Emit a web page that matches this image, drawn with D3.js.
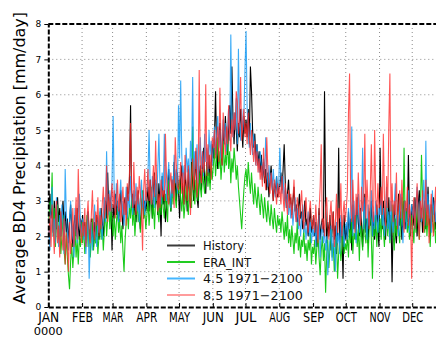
<!DOCTYPE html>
<html>
<head>
<meta charset="utf-8">
<script src="https://cdn.jsdelivr.net/npm/d3@7"></script>
<style>
body{margin:0;background:#fff}
svg{display:block;font-family:"DejaVu Sans",sans-serif}
</style>
</head>
<body>
<div id="chart"></div>
<script>
var months = ["JAN","FEB","MAR","APR","MAY","JUN","JUL","AUG","SEP","OCT","NOV","DEC"];
var monthDays = [31,28,31,30,31,30,31,31,30,31,30,31];
var yTicks = [0,1,2,3,4,5,6,7,8];
var yearLabel = "0000";
var yTitle = "Average BD4 Precipitation [mm/day]";
var seriesNames = ["History","ERA_INT","4.5  1971\u22122100","8.5  1971\u22122100"];

// daily values [mm/day], one row per month
var hist = [
  [2.8,3.2,2.5,2.9,2.1,3.0,2.6,2.2,3.1,2.4,2.8,2.0,2.6,3.0,2.3,2.7,2.1,2.5,1.8,2.4,2.9,2.2,1.7,2.3,2.6,2.0,2.8,2.3,1.9,2.5,2.2],
  [2.6,2.0,2.4,1.8,2.3,2.7,2.1,1.9,2.5,2.2,1.7,2.4,2.0,2.6,2.3,1.9,2.2,2.8,2.4,2.0,2.6,3.0,2.5,3.8,2.7,3.1,2.9,1.6],
  [2.9,2.5,3.2,2.6,3.0,2.4,2.8,3.3,2.7,2.2,2.9,3.1,2.6,3.4,3.0,3.6,5.7,2.8,3.2,2.6,3.0,2.4,2.9,3.3,2.7,2.2,2.8,3.1,2.5,3.0,2.7],
  [3.0,3.4,2.7,3.6,3.1,2.5,3.3,3.8,2.9,3.2,2.6,3.5,3.0,2.0,3.7,2.9,3.3,2.4,2.8,3.4,3.9,3.1,2.7,3.6,3.2,4.1,3.5,3.0,3.8,3.3],
  [2.5,3.6,4.0,3.2,2.9,3.8,3.4,2.7,3.9,3.3,2.8,4.2,3.5,3.0,3.7,4.4,3.1,2.8,3.6,4.0,3.3,3.9,4.5,3.6,3.2,4.1,3.7,4.3,3.5,4.0,4.6],
  [4.2,4.8,6.1,4.5,3.9,4.7,5.2,4.4,4.0,5.0,4.6,5.4,4.8,4.3,5.1,5.7,4.9,6.8,5.3,4.6,5.5,5.0,4.4,5.2,4.8,5.6,5.1,4.5,5.4,4.9],
  [5.3,4.8,5.6,4.6,6.8,6.1,5.0,4.5,4.9,4.2,4.6,4.0,4.4,3.8,4.3,3.6,4.1,3.5,3.9,3.3,3.8,3.1,3.6,4.0,3.4,3.0,3.5,3.2,3.7,3.1,3.4],
  [3.4,3.8,3.3,3.9,4.6,3.5,2.8,3.2,3.6,2.9,3.1,2.6,3.0,3.4,2.7,2.9,2.4,2.8,3.2,2.5,2.7,2.2,2.6,3.0,2.3,2.5,2.0,2.4,2.8,2.1,2.3],
  [2.6,2.0,2.4,1.7,2.2,2.8,1.9,2.3,2.5,2.1,6.1,3.0,1.8,2.4,2.0,2.6,1.6,2.2,2.7,1.9,2.3,1.5,2.1,4.5,1.8,2.4,2.0,0.8,2.6,1.9],
  [2.3,1.8,2.7,2.1,2.5,1.6,2.9,2.2,2.6,1.9,3.1,2.4,2.0,2.8,2.3,1.7,2.6,3.2,2.1,2.5,1.8,2.7,2.3,3.0,2.0,2.6,1.9,2.4,2.9,2.2,1.7],
  [4.5,2.8,2.2,3.0,2.5,1.9,2.7,2.3,3.1,2.0,2.6,0.7,2.4,2.9,2.1,1.8,2.6,3.2,2.3,2.7,1.9,2.5,3.0,2.2,2.8,2.4,4.3,2.6,2.0,2.9],
  [2.7,2.3,3.1,2.5,2.0,2.9,3.3,2.4,2.8,2.1,2.6,3.0,2.2,2.7,3.4,2.5,2.0,2.9,2.4,3.1,2.6,2.2,2.8,3.2,2.5,2.1,2.9,2.4,3.0,2.6,2.3]
];
var eraInt = [
  [2.5,3.0,2.7,3.8,2.0,2.8,1.7,2.3,2.9,1.9,2.4,1.5,2.0,2.6,1.6,1.2,2.1,1.4,0.9,0.5,1.3,1.8,1.1,1.6,2.2,1.4,1.9,1.2,2.0,1.7,2.4],
  [1.8,2.3,1.5,2.0,2.6,1.7,2.2,1.4,1.9,2.5,1.6,2.1,1.8,2.4,1.5,2.0,2.7,1.9,2.3,1.6,2.2,2.8,2.0,2.5,3.0,2.2,2.7,2.4],
  [2.0,2.6,1.9,2.4,2.8,2.1,2.5,1.8,2.3,1.6,1.0,1.9,2.4,2.7,2.2,2.9,2.5,3.1,2.3,2.8,2.0,2.6,3.0,2.4,2.7,2.1,2.9,3.3,2.5,2.8,2.2],
  [2.6,3.0,2.3,2.8,3.4,2.5,2.9,2.2,3.1,3.5,2.7,2.4,3.0,2.6,3.3,2.8,2.5,3.2,2.9,2.4,3.6,3.0,2.7,3.4,2.9,3.7,3.1,2.8,3.5,3.2],
  [3.6,3.1,2.7,3.3,2.5,2.9,3.4,3.0,2.6,3.5,3.1,2.8,5.1,3.2,2.9,3.6,3.3,3.0,3.8,3.4,3.1,3.9,3.5,3.2,3.7,4.0,3.4,3.8,3.3,4.1,3.6],
  [4.0,4.5,3.7,4.2,4.8,3.9,4.4,3.6,4.1,4.7,3.8,4.3,4.0,4.9,3.9,4.4,3.5,4.2,3.8,4.5,4.1,3.6,4.0,3.4,3.0,2.6,2.2,2.8,3.3,3.7],
  [3.9,3.4,4.1,3.6,3.2,3.8,3.3,2.9,3.5,3.1,2.8,3.4,3.0,2.6,3.2,2.9,2.5,3.1,2.7,2.4,3.0,2.6,2.3,2.9,2.5,2.2,2.8,2.4,2.1,2.6,2.3],
  [2.5,2.1,2.7,2.3,1.9,2.4,2.0,2.6,1.8,2.2,1.7,2.3,1.9,1.5,2.1,1.8,2.4,1.6,2.0,1.4,1.9,1.7,2.2,1.5,1.8,1.3,1.9,1.6,2.1,1.2,1.7],
  [1.5,1.9,1.2,1.7,2.1,1.4,0.9,1.6,2.0,1.3,1.8,0.4,1.5,1.9,1.1,1.7,2.2,1.4,1.8,1.0,1.6,2.0,0.8,1.5,1.9,1.3,1.7,2.3,1.5,1.8],
  [1.6,2.0,1.4,2.3,1.8,2.5,1.5,2.1,1.9,2.6,1.7,2.2,1.3,2.4,2.0,1.6,2.7,2.1,1.8,2.5,1.4,2.2,2.8,1.9,0.8,2.3,2.0,2.6,1.7,2.4,2.1],
  [2.5,1.9,2.8,2.2,1.7,2.4,3.0,2.0,2.6,1.8,2.3,2.9,2.1,1.6,2.5,2.0,2.7,2.2,1.8,2.6,3.1,2.3,4.5,2.4,2.8,2.1,2.5,1.9,2.2,2.6],
  [2.3,1.8,2.6,2.1,2.9,2.4,1.9,2.7,4.3,3.0,2.5,2.1,2.8,2.0,2.6,2.3,1.7,2.5,2.9,2.1,2.4,1.8,2.7,2.2,3.1,2.5,1.9,2.6,2.3,2.8,2.0]
];
var rcp45 = [
  [2.2,1.6,2.8,3.4,2.0,2.5,1.8,3.1,2.3,1.7,2.6,2.0,2.9,2.4,1.5,3.9,2.7,2.1,1.6,2.5,3.0,1.9,2.3,1.4,2.8,2.2,1.8,2.6,3.2,2.4,2.0],
  [2.5,1.9,2.3,1.5,2.1,2.7,0.8,1.8,2.4,1.6,2.2,2.9,2.0,1.7,2.5,2.1,2.8,2.3,1.9,2.6,3.1,2.4,4.4,3.0,2.6,3.3,2.8,3.6],
  [5.4,3.2,2.7,3.5,2.9,2.4,3.1,3.6,2.6,3.0,2.3,2.8,3.4,2.5,3.2,2.8,3.7,3.1,2.6,3.3,2.9,3.5,2.7,3.2,2.4,3.0,3.6,2.8,3.3,2.6,3.1],
  [3.3,3.8,5.0,3.4,2.9,3.7,3.2,2.8,3.6,3.0,3.9,4.9,3.5,2.9,3.8,3.2,4.9,3.6,3.0,3.5,4.1,3.3,2.8,3.7,3.1,4.3,3.5,3.9,3.2,5.7],
  [4.2,6.4,4.3,3.5,4.0,3.6,4.5,3.8,4.2,3.4,4.7,4.1,6.5,3.7,4.4,3.9,4.6,3.5,4.2,4.8,3.9,4.4,3.7,4.9,4.1,4.5,3.8,5.0,4.3,4.7,4.0],
  [4.6,5.1,4.3,4.9,5.4,4.5,5.0,4.2,4.8,5.3,4.6,5.2,4.4,5.0,5.6,4.7,7.7,5.3,4.8,5.5,5.0,5.9,4.6,7.3,5.2,4.7,5.6,5.0,5.4,6.7],
  [7.8,5.6,5.0,4.5,5.2,4.7,4.3,4.9,4.4,4.0,4.6,4.1,3.8,4.4,4.0,3.6,4.2,3.7,4.8,3.9,3.4,4.0,3.5,3.8,3.3,3.9,3.4,3.1,3.7,3.2,3.5],
  [4.5,3.6,3.2,3.7,3.0,3.4,2.8,3.2,2.6,3.0,2.5,2.9,2.3,2.7,3.1,2.4,2.8,2.2,2.6,2.0,2.5,2.9,2.1,2.4,1.9,2.3,2.7,2.0,2.4,1.8,2.2],
  [2.0,2.5,1.7,2.3,1.9,2.6,1.4,2.1,2.4,1.8,2.2,1.6,2.0,0.9,1.5,1.9,2.3,1.3,2.0,1.7,1.0,2.4,1.8,2.1,1.5,2.6,2.0,2.3,1.7,2.2],
  [2.4,1.9,2.8,2.2,2.6,5.1,2.0,3.0,2.3,1.8,2.7,3.2,2.1,2.5,2.8,4.5,2.2,3.1,2.4,1.9,2.9,2.3,2.6,3.3,2.0,2.7,2.2,3.0,2.5,2.1,2.8],
  [2.6,3.1,2.3,2.8,2.0,2.5,3.4,2.2,2.7,1.9,3.0,2.4,2.1,2.9,3.5,2.3,2.6,2.0,2.8,3.2,2.4,1.8,2.7,3.0,2.2,2.5,3.3,2.1,2.6,2.9],
  [2.5,3.0,2.2,2.8,3.4,2.6,2.1,3.1,2.4,2.9,3.6,2.3,4.7,2.7,3.2,2.5,2.9,2.1,3.3,2.6,3.0,2.4,2.8,3.5,2.2,2.7,3.1,2.5,2.9,3.4,2.6]
];
var rcp85 = [
  [2.0,2.6,1.7,2.9,2.2,1.5,2.4,3.0,1.8,2.3,1.4,2.7,2.0,1.6,2.5,1.2,2.1,1.8,1.0,2.4,1.5,2.0,2.8,1.7,2.3,3.1,1.9,3.9,2.6,2.2,1.8],
  [2.4,2.0,2.8,1.7,2.5,3.0,2.1,1.8,2.6,3.3,2.2,1.9,2.7,2.3,3.1,2.0,2.6,2.2,2.9,3.4,2.5,2.8,4.0,2.4,3.2,2.7,3.0,3.5],
  [2.8,3.3,2.5,3.0,3.6,2.7,3.2,2.4,2.9,3.4,2.6,3.1,2.3,3.5,3.0,3.8,5.2,3.3,2.8,4.1,3.0,2.6,3.4,2.9,3.7,3.2,2.8,1.6,3.3,3.9,3.0],
  [3.3,3.9,3.0,3.6,2.9,3.4,4.0,3.1,4.7,3.5,2.7,3.2,2.8,3.6,3.1,3.3,3.0,4.9,3.7,3.1,2.9,3.5,3.8,3.2,3.6,2.8,4.8,4.0,3.4,3.3],
  [3.6,4.1,3.2,3.8,2.9,4.3,3.5,3.0,4.0,3.4,2.6,3.7,4.2,3.3,3.9,4.5,3.1,3.6,6.7,4.0,3.5,4.4,3.8,4.1,6.3,3.7,4.6,3.9,4.3,3.6,4.8],
  [4.5,5.0,4.2,4.7,5.1,4.1,6.2,4.6,4.0,5.5,4.8,4.3,5.1,4.6,5.7,4.9,4.4,5.3,4.8,5.5,5.0,6.1,5.8,4.9,5.3,6.5,4.7,5.2,5.6,4.8],
  [5.2,4.6,5.5,4.8,4.3,5.0,4.5,4.1,4.7,4.0,4.4,3.8,4.2,3.6,4.0,3.4,4.5,3.7,3.3,4.8,3.9,3.5,3.2,3.8,3.4,3.0,3.6,3.3,2.9,3.5,3.1],
  [3.4,2.9,3.7,3.1,2.7,3.5,3.0,2.6,3.3,2.8,3.2,2.5,3.0,3.6,2.7,2.4,3.1,2.8,2.3,2.9,3.3,2.6,2.2,2.8,3.1,2.5,2.1,2.7,3.0,2.4,2.2],
  [2.6,2.1,2.9,2.3,1.8,2.7,3.4,4.6,2.2,2.5,2.0,2.8,3.1,2.3,1.9,2.6,3.0,2.2,2.7,1.7,2.4,3.2,2.1,2.8,2.5,3.5,2.0,2.6,3.0,2.4],
  [2.8,3.3,5.5,6.6,3.0,2.4,3.6,2.7,2.1,3.2,2.6,3.8,2.9,2.3,3.4,2.7,3.1,4.9,2.5,3.6,2.8,2.2,3.3,4.6,2.9,2.4,5.0,3.1,2.6,3.5,2.8],
  [2.9,3.4,2.6,4.9,3.1,2.3,3.7,2.8,5.1,6.6,2.7,3.5,2.4,3.0,2.6,3.8,2.2,2.9,3.3,2.5,3.6,2.8,2.1,3.0,2.7,3.4,2.3,2.9,2.5,0.8],
  [2.6,3.1,2.2,2.8,3.5,2.4,1.9,3.0,2.5,3.3,2.1,2.7,3.6,2.3,2.9,1.8,2.6,3.2,2.4,2.0,2.8,3.4,2.2,2.7,1.7,2.5,3.0,2.1,2.6,1.9,2.4]
];

var chart = {
    width: 436,
    height: 338,
    left: 48.3, right: 446, top: 24, bottom: 307,
    lineColors: ["#000000","#00c400","#1a9cf5","#ff2b2b"],
    legendColors: ["#3a3a3a","#22cc22","#44b6ff","#ff9c9c"],
    init: function(){
        var self = this;
        var svg = d3.select('#chart').append('svg')
            .attr('width', this.width)
            .attr('height', this.height);
        svg.append('rect').attr('width', this.width).attr('height', this.height).attr('fill', '#fff');

        var starts = [0];
        monthDays.forEach(function(d, i){ starts.push(starts[i] + d); });
        var total = starts[12];

        var x = d3.scaleLinear().domain([0, total]).range([this.left, this.right]);
        var y = d3.scaleLinear().domain([0, 8]).range([this.bottom, this.top]);

        // dotted grid
        var grid = svg.append('g').attr('stroke', '#8c8c8c').attr('stroke-dasharray', '1,3');
        grid.selectAll('line.h').data(yTicks.slice(1, -1)).enter().append('line')
            .attr('x1', this.left).attr('x2', this.right)
            .attr('y1', function(d){ return y(d); }).attr('y2', function(d){ return y(d); });
        grid.selectAll('line.v').data(starts.slice(1, 12)).enter().append('line')
            .attr('y1', this.top).attr('y2', this.bottom)
            .attr('x1', function(d){ return x(d); }).attr('x2', function(d){ return x(d); });

        // series
        var line = d3.line()
            .x(function(d){ return x(d.day); })
            .y(function(d){ return y(d.v); });
        function flat(rows){
            var out = [];
            rows.forEach(function(r, m){
                r.slice(0, monthDays[m]).forEach(function(v, i){ out.push({day: starts[m] + i + 0.5, v: v}); });
            });
            return out;
        }
        var all = [hist, eraInt, rcp45, rcp85];
        var opac = [1, 0.9, 0.85, 0.8];
        all.forEach(function(s, k){
            svg.append('path').datum(flat(s))
                .attr('d', line)
                .attr('fill', 'none')
                .attr('stroke', self.lineColors[k])
                .attr('stroke-opacity', opac[k])
                .attr('stroke-width', 1.1);
        });

        // axes
        var xAxis = d3.axisBottom(x).tickValues(starts.slice(0, 12))
            .tickFormat(function(d, i){ return months[i]; })
            .tickSizeInner(-4).tickSizeOuter(0).tickPadding(5);
        var gx = svg.append('g').attr('transform', 'translate(0,' + this.bottom + ')').call(xAxis);
        gx.selectAll('text').attr('font-size', 14).attr('fill', '#000')
            .attr('font-family', '"DejaVu Sans",sans-serif')
            .attr('textLength', 21).attr('lengthAdjust', 'spacingAndGlyphs');
        gx.selectAll('.tick line').attr('stroke', '#000');

        var yAxis = d3.axisLeft(y).tickValues(yTicks).tickFormat(d3.format('d'))
            .tickSizeInner(4).tickSizeOuter(0).tickPadding(3);
        var gy = svg.append('g').attr('transform', 'translate(' + this.left + ',0)').call(yAxis);
        gy.selectAll('text').attr('font-size', 9).attr('fill', '#000')
            .attr('font-family', '"DejaVu Sans",sans-serif');
        gy.selectAll('.tick line').attr('stroke', '#000');

        // dashed frame
        [gx.select('.domain'), gy.select('.domain')].forEach(function(p){
            p.attr('stroke', '#000').attr('stroke-width', 2).attr('stroke-dasharray', '5,2');
        });
        svg.append('line').attr('x1', this.left).attr('x2', this.right)
            .attr('y1', this.top).attr('y2', this.top)
            .attr('stroke', '#000').attr('stroke-width', 2).attr('stroke-dasharray', '5,2');

        svg.append('text').attr('x', x(0)).attr('y', 335.3)
            .attr('text-anchor', 'middle').attr('font-size', 10.5)
            .attr('textLength', 29).attr('lengthAdjust', 'spacingAndGlyphs')
            .text(yearLabel);

        svg.append('text')
            .attr('transform', 'translate(25,158) rotate(-90)')
            .attr('text-anchor', 'middle').attr('font-size', 16)
            .attr('textLength', 292).attr('lengthAdjust', 'spacingAndGlyphs')
            .text(yTitle);

        // legend
        var rows = [245.5, 262, 278.5, 295];
        var widths = [41, 48, 100, 100];
        var lg = svg.append('g');
        seriesNames.forEach(function(n, k){
            lg.append('line').attr('x1', 167).attr('x2', 195)
                .attr('y1', rows[k]).attr('y2', rows[k])
                .attr('stroke', self.legendColors[k]).attr('stroke-width', 2);
            lg.append('text').attr('x', 203).attr('y', rows[k]).attr('dy', '0.36em')
                .attr('font-size', 13).attr('fill', '#111')
                .attr('textLength', widths[k]).attr('lengthAdjust', 'spacingAndGlyphs')
                .text(n);
        });
    }
};
chart.init();
</script>
</body>
</html>
